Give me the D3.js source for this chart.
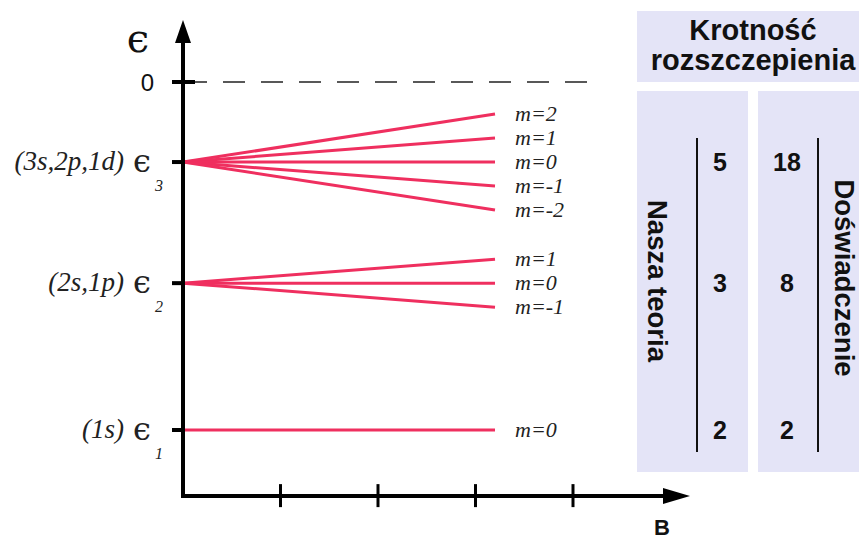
<!DOCTYPE html>
<html>
<head>
<meta charset="utf-8">
<script src="https://cdn.jsdelivr.net/npm/d3@7"></script>
<style>
body { margin: 0; background: #fff; }
svg { display: block; }
</style>
</head>
<body>
<svg id="chart"></svg>
<script>
// energy levels (arbitrary units, 0 = ionisation)
var levelNames = ["(1s)", "(2s,1p)", "(3s,2p,1d)"];
var levelSubs = ["1", "2", "3"];
var levelEnergy = [-1.0, -0.578, -0.23];
var levelM = [[0], [1, 0, -1], [2, 1, 0, -1, -2]];
var splitPerM = 0.069;   // energy shift per unit of m at bEnd
var bEnd = 3.2;
var bTicks = [1, 2, 3, 4];

// splitting multiplicities
var theory = [2, 3, 5];
var experiment = [2, 8, 18];

var W = 859, H = 542;
var red = "#ef2f5f";

var svg = d3.select("#chart").attr("width", W).attr("height", H);

var x = d3.scaleLinear().domain([0, 4]).range([183, 573]);
var y = d3.scaleLinear().domain([0, -1]).range([82, 430]);

var xMax = 5.2, yTop = 0.178, yBot = -1.19;

// table boxes
svg.append("rect").attr("x", 637).attr("y", 11).attr("width", 240).attr("height", 71).attr("fill", "#e4e4f7");
svg.append("rect").attr("x", 637).attr("y", 91).attr("width", 111).attr("height", 381).attr("fill", "#e4e4f7");
svg.append("rect").attr("x", 758).attr("y", 91).attr("width", 120).attr("height", 381).attr("fill", "#e4e4f7");

var head = svg.append("text")
  .attr("text-anchor", "middle")
  .style("font-family", "Liberation Sans, Arial, sans-serif")
  .style("font-weight", "bold")
  .style("font-size", "29px")
  .attr("fill", "#111");
head.append("tspan").attr("x", 753).attr("y", 40).text("Krotność");
head.append("tspan").attr("x", 753).attr("y", 70).text("rozszczepienia");

svg.append("text")
  .attr("transform", "translate(648,281) rotate(90)")
  .attr("text-anchor", "middle")
  .style("font-family", "Liberation Sans, Arial, sans-serif")
  .style("font-weight", "bold")
  .style("font-size", "27.5px")
  .attr("fill", "#111")
  .text("Nasza teoria");

svg.append("text")
  .attr("transform", "translate(835,278) rotate(90)")
  .attr("text-anchor", "middle")
  .style("font-family", "Liberation Sans, Arial, sans-serif")
  .style("font-weight", "bold")
  .style("font-size", "27.5px")
  .attr("fill", "#111")
  .text("Doświadczenie");

[697, 818].forEach(function(lx){
  svg.append("line").attr("x1", lx).attr("x2", lx).attr("y1", 138).attr("y2", 452)
    .attr("stroke", "#111").attr("stroke-width", 2);
});

svg.selectAll("text.theory").data(theory).enter().append("text")
  .attr("class", "theory")
  .attr("x", 720)
  .attr("y", function(d, i){ return y(levelEnergy[i]); })
  .attr("dy", "0.36em")
  .attr("text-anchor", "middle")
  .style("font-family", "Liberation Sans, Arial, sans-serif")
  .style("font-weight", "bold")
  .style("font-size", "25px")
  .attr("fill", "#111")
  .text(function(d){ return d; });

svg.selectAll("text.exp").data(experiment).enter().append("text")
  .attr("class", "exp")
  .attr("x", 787)
  .attr("y", function(d, i){ return y(levelEnergy[i]); })
  .attr("dy", "0.36em")
  .attr("text-anchor", "middle")
  .style("font-family", "Liberation Sans, Arial, sans-serif")
  .style("font-weight", "bold")
  .style("font-size", "25px")
  .attr("fill", "#111")
  .text(function(d){ return d; });

// zero line
svg.append("line")
  .attr("x1", x(0) + 2).attr("x2", 590)
  .attr("y1", y(0)).attr("y2", y(0))
  .attr("stroke", "#222").attr("stroke-width", 1.5)
  .attr("stroke-dasharray", "22,16");

// split levels
var g = svg.append("g");
levelEnergy.forEach(function(e, i){
  levelM[i].forEach(function(m){
    var e2 = e + m * splitPerM;
    g.append("line")
      .attr("x1", x(0)).attr("y1", y(e))
      .attr("x2", x(bEnd)).attr("y2", y(e2))
      .attr("stroke", red).attr("stroke-width", 3);
    g.append("text")
      .attr("x", x(bEnd) + 20)
      .attr("y", y(e2))
      .attr("dy", "0.3em")
      .style("font-family", "Liberation Serif, serif")
      .style("font-style", "italic")
      .style("font-size", "22px")
      .attr("fill", "#222")
      .text("m=" + m);
  });
});

// axes
svg.append("line")
  .attr("x1", x(0)).attr("x2", x(0))
  .attr("y1", y(yBot)).attr("y2", y(yTop) + 20)
  .attr("stroke", "#000").attr("stroke-width", 4);
svg.append("path")
  .attr("d", "M" + (x(0) - 8) + "," + (y(yTop) + 23) + "L" + x(0) + "," + y(yTop) + "L" + (x(0) + 8) + "," + (y(yTop) + 23) + "Z")
  .attr("fill", "#000");

svg.append("line")
  .attr("x1", x(0) - 2).attr("x2", x(xMax) - 24)
  .attr("y1", y(yBot)).attr("y2", y(yBot))
  .attr("stroke", "#000").attr("stroke-width", 4);
svg.append("path")
  .attr("d", "M" + (x(xMax) - 27) + "," + (y(yBot) - 8) + "L" + x(xMax) + "," + y(yBot) + "L" + (x(xMax) - 27) + "," + (y(yBot) + 8) + "Z")
  .attr("fill", "#000");

svg.selectAll("line.btick").data(bTicks).enter().append("line")
  .attr("class", "btick")
  .attr("x1", function(d){ return x(d); }).attr("x2", function(d){ return x(d); })
  .attr("y1", y(yBot) - 12).attr("y2", y(yBot) + 11)
  .attr("stroke", "#000").attr("stroke-width", 3);

svg.append("text")
  .attr("x", 662).attr("y", 535)
  .attr("text-anchor", "middle")
  .style("font-family", "Liberation Sans, Arial, sans-serif")
  .style("font-weight", "bold")
  .style("font-size", "22px")
  .attr("fill", "#111")
  .text("B");

// y ticks
svg.append("line")
  .attr("x1", x(0) - 11).attr("x2", x(0) + 12)
  .attr("y1", y(0)).attr("y2", y(0))
  .attr("stroke", "#000").attr("stroke-width", 4);
svg.append("text")
  .attr("x", 154).attr("y", y(0)).attr("dy", "0.36em")
  .attr("text-anchor", "end")
  .style("font-family", "Liberation Sans, Arial, sans-serif")
  .style("font-size", "24px")
  .attr("fill", "#111")
  .text("0");

svg.append("text")
  .attr("x", 138).attr("y", 52)
  .attr("text-anchor", "middle")
  .style("font-family", "DejaVu Serif, serif")
  .style("font-size", "40px")
  .attr("fill", "#111")
  .text("ϵ");

levelEnergy.forEach(function(e, i){
  svg.append("line")
    .attr("x1", x(0) - 11).attr("x2", x(0))
    .attr("y1", y(e)).attr("y2", y(e))
    .attr("stroke", "#000").attr("stroke-width", 4);
  svg.append("text")
    .attr("x", 124).attr("y", y(e)).attr("dy", "0.3em")
    .attr("text-anchor", "end")
    .style("font-family", "Liberation Serif, serif")
    .style("font-style", "italic")
    .style("font-size", "27px")
    .attr("fill", "#222")
    .text(levelNames[i]);
  svg.append("text")
    .attr("x", 133).attr("y", y(e)).attr("dy", "0.32em")
    .style("font-family", "DejaVu Serif, serif")
    .style("font-size", "32px")
    .attr("fill", "#222")
    .text("ϵ");
  svg.append("text")
    .attr("x", 155).attr("y", y(e) + 29)
    .style("font-family", "Liberation Serif, serif")
    .style("font-style", "italic")
    .style("font-size", "16px")
    .attr("fill", "#222")
    .text(levelSubs[i]);
});
</script>
</body>
</html>
